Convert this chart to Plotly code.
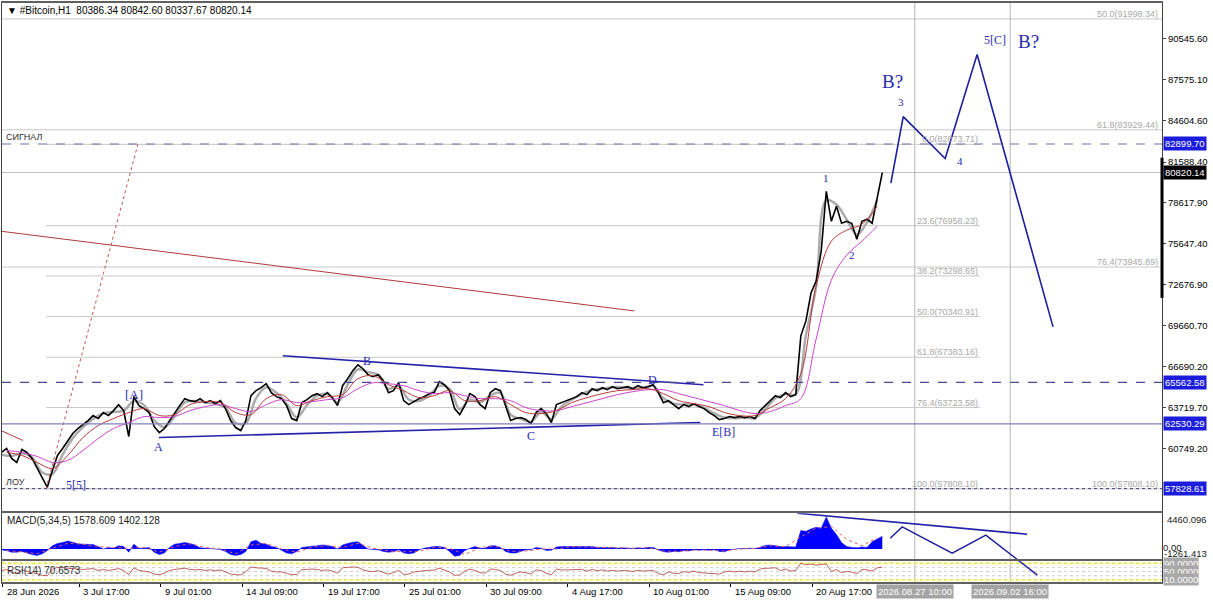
import pandas as pd
import plotly.graph_objects as go
from plotly.subplots import make_subplots

FONT = 'Liberation Sans'
SERIF = 'Liberation Serif'

# ---- #Bitcoin H1, closes every 8 hours ----
price_start = '2026-06-28 15:00'
price = [
    60458, 60748, 60023, 59733, 60675, 60458, 60023, 59298, 58573, 57920,
    59153, 60240, 60748, 61328, 61836, 62198, 62488, 62778, 63141, 62923,
    63358, 63141, 63503, 63938, 63503, 61618, 64518, 63866, 63648, 63358,
    62343, 61908, 62198, 62778, 63358, 63866, 64373, 64228, 64156, 64373,
    64083, 64228, 64011, 64228, 63648, 62778, 62271, 62053, 62778, 64590,
    64953, 65170, 65460, 64808, 64518, 64373, 63866, 62923, 62778, 64083,
    64301, 64590, 64736, 64518, 64808, 64446, 63866, 65315, 65823, 66403,
    66838, 66548, 66113, 65968, 66113, 65678, 64808, 64953, 65533, 64228,
    63938, 64156, 64373, 64518, 64736, 64808, 65605, 65388, 64953, 63648,
    63213, 63866, 64736, 64518, 63938, 63648, 64808, 65098, 64953, 63866,
    62778, 62923, 62996, 62851, 62561, 63358, 63648, 63286, 62633, 63938,
    64083, 64228, 64373, 64518, 64808, 64663, 65098, 64953, 65170, 65025,
    65243, 65098, 65170, 65243, 65098, 65315, 65170, 65243, 65388, 64808,
    64083, 64228, 63938, 63648, 63938, 63793, 64011, 63793, 63648, 63358,
    63141, 62851, 62923, 63068, 62996, 63068, 62996, 63068, 62923, 63503,
    63866, 64228, 64590, 64446, 64808, 64518, 64663, 68941, 70028, 72058,
    72928, 75103, 79453, 77278, 78366, 77133, 77278, 77133, 75973, 77278,
    77423, 77133, 79091, 80820.14,
]

# thick grey line, every 16 hours
grey_start = '2026-06-28 15:00'
grey_line = [
    60300, 60200, 60400, 60100, 59000, 58900, 60300, 61500, 62300, 62900,
    63300, 63400, 63500, 64200, 63900, 62800, 62300, 63100, 64100, 64200,
    64100, 64000, 63700, 62600, 62600, 64400, 65200, 64800, 64000, 63000,
    63900, 64600, 64700, 64100, 65400, 66500, 66300, 66100, 65100, 65300,
    64300, 64200, 64600, 65300, 65100, 63600, 64300, 64100, 64600, 64800,
    63200, 62900, 62700, 63400, 62900, 63800, 64300, 64700, 65000, 65100,
    65200, 65200, 65100, 65150, 65300, 64400, 64000, 63950, 63950, 63700,
    63300, 63000, 62950, 62990, 62950, 63600, 64400, 64700, 64700, 69000,
    72500, 78800, 78500, 77400, 76300, 77200, 78800,
]

# moving averages, every 24 hours
ma_start = '2026-06-28 23:00'
ma_red = [
    60458, 60240, 59733, 59298, 60240, 61546, 62416, 62923, 63358, 63648,
    63141, 63213, 63938, 64156, 64083, 63358, 63213, 64373, 64663, 63866,
    64228, 64518, 64663, 65823, 66041, 65388, 64953, 64446, 64590, 64953,
    64228, 64228, 64518, 63938, 63358, 63286, 63503, 64083, 64446, 64736,
    64953, 65025, 65098, 64736, 64228, 64011, 63793, 63358, 63141, 63141,
    63721, 64373, 66186, 72566, 75828, 76626, 77061, 78366,
]
ma_magenta = [
    60603, 60458, 60168, 59733, 59878, 60603, 61473, 62198, 62633, 63068,
    62996, 63068, 63503, 63793, 63938, 63648, 63431, 63938, 64301, 64083,
    64156, 64301, 64446, 65098, 65533, 65460, 65315, 64953, 64736, 64808,
    64590, 64373, 64373, 64228, 63721, 63503, 63503, 63793, 64083, 64373,
    64663, 64880, 65025, 65025, 64736, 64446, 64156, 63866, 63503, 63286,
    63431, 63866, 64373, 68700, 73000, 74813, 75828, 76916,
]

# MACD(5,34,5) histogram on the price grid, signal on the 24 h grid
macd_hist = [
    -100, -200, -400, -400, -300, -500, -700, -800, -600, -200,
    400, 700, 800, 1000, 800, 650, 600, 600, 550, 300,
    0, 200, 100, 400, 300, -400, 600, 100, 100, 200,
    -400, -700, -500, 200, 600, 700, 800, 700, 500, 150,
    100, 0, 0, -50, -300, -700, -800, -700, -300, 900,
    1100, 700, 600, 300, 200, -100, -500, -600, -300, 200,
    300, 350, 400, 500, 450, 300, 0, 500, 700, 850,
    900, 500, 0, -50, -100, -300, -400, -350, -100, -500,
    -600, -500, -100, 100, 200, 300, 300, 200, -300, -900,
    -800, -200, 100, 300, 100, 100, 400, 400, 200, -300,
    -500, -500, -300, -100, -100, 200, 100, -200, -150, 250,
    300, 300, 300, 300, 300, 250, 300, 200, 200, 150,
    200, 100, 150, 100, 50, 150, 100, 200, 200, -100,
    -350, -400, -300, -350, -200, -250, -100, -150, -100, -150,
    -100, -300, -350, -100, 0, 50, 50, 100, 50, 200,
    450, 500, 400, 300, 300, 300, 250, 2300, 2200, 2500,
    2700, 2600, 4000, 2600, 1800, 800, 300, 200, 150, 250,
    200, 900, 1200, 1578.609,
]
macd_signal = [
    -200, -350, -600, 100, 700, 600, 300, 200, 100, 200,
    -400, 300, 650, 200, 0, -600, 500, 700, 0, -400,
    250, 400, 200, 700, 100, -250, -350, -300, 200, 100,
    -700, 200, 350, -300, -250, 0, 0, 280, 280, 200,
    150, 100, 150, -250, -300, -150, -150, -250, 0, 80,
    400, 300, 1500, 2600, 2800, 1200, 400, 1402.128,
]

# RSI(14) on the price grid
rsi = [
    55, 60, 45, 40, 58, 52, 45, 38, 32, 30,
    62, 70, 68, 66, 64, 62, 60, 62, 64, 55,
    60, 55, 60, 64, 55, 35, 68, 55, 52, 48,
    38, 35, 42, 55, 60, 64, 66, 60, 58, 60,
    55, 58, 54, 58, 48, 38, 35, 34, 50, 72,
    68, 66, 65, 52, 48, 48, 42, 35, 36, 60,
    60, 62, 60, 55, 58, 52, 42, 68, 70, 72,
    70, 58, 52, 50, 54, 46, 38, 45, 56, 36,
    38, 48, 52, 54, 56, 57, 66, 56, 48, 32,
    34, 52, 62, 55, 45, 42, 62, 60, 55, 38,
    32, 42, 48, 44, 38, 58, 55, 42, 35, 62,
    58, 58, 58, 58, 60, 52, 60, 54, 58, 52,
    56, 52, 55, 54, 50, 56, 52, 54, 56, 40,
    35, 48, 42, 40, 50, 46, 52, 45, 44, 42,
    40, 38, 48, 52, 48, 52, 48, 52, 48, 62,
    65, 66, 68, 55, 62, 52, 55, 90, 82, 86,
    80, 84, 86, 50, 60, 45, 50, 48, 40, 60,
    58, 52, 68, 70.6573,
]

last_bar = [80386.34, 80842.60, 80337.67, 80820.14]
macd_last = [1578.609, 1402.128]
rsi_last = 70.6573

price_ticks = [90545.60, 87575.10, 84604.60, 81588.40, 78617.90, 75647.40,
               72676.90, 69660.70, 66690.20, 63719.70, 60749.20]
macd_scale = [4460.096, 0.00, -1261.413]
rsi_levels = [90, 70, 50, 30, 10]

signal_level = 82899.70
resist_level = 65562.58
support_level = 62530.29
low_level = 57828.61

fib1_span = ['2026-07-01 13:00', '2026-08-31 16:42']
fib1_pct = [0.0, 23.6, 38.2, 50.0, 61.8, 76.4, 100.0]
fib1_price = [82873.71, 76958.23, 73298.65, 70340.91, 67383.16, 63723.58, 57808.10]
fib2_pct = [50.0, 61.8, 76.4, 100.0]
fib2_price = [91998.34, 83929.44, 73945.89, 57808.10]
fib1_base_t = ['2026-07-01 13:00', '2026-07-07 13:18']
fib1_base_p = [57808.10, 82873.71]

red_line_t = ['2026-06-28 14:18', '2026-08-09 01:36']
red_line_p = [76553, 70753]
red_stub_t = ['2026-06-28 14:18', '2026-06-30 00:48']
red_stub_p = [62050, 61328]

tri_top_t = ['2026-07-17 01:00', '2026-08-13 14:00']
tri_top_p = [67491, 65388]
tri_bot_t = ['2026-07-08 22:18', '2026-08-13 09:12']
tri_bot_p = [61546, 62633]

wave_t = ['2026-08-25 20:30', '2026-08-26 15:54', '2026-08-29 09:48',
          '2026-08-31 12:00', '2026-09-05 11:18']
wave_p = [80055, 84890, 81845, 89407, 69593]

macd_trend_t = ['2026-08-19 17:30', '2026-09-03 18:30']
macd_trend_v = [4460, 1848]
macd_wave_t = ['2026-08-25 19:24', '2026-08-26 14:18', '2026-08-29 20:48',
               '2026-09-01 01:42', '2026-09-04 10:42']
macd_wave_v = [1350, 2756, -516, 1723, -3253]
rsi_wave_t = ['2026-09-01 01:42', '2026-09-04 10:42']
rsi_wave_v = [224, 33]

wave_labels = [
    ('[A]', '2026-07-07 07:00', 64663, 13),
    ('A', '2026-07-08 22:18', 60821, 12),
    ('B', '2026-07-22 13:00', 67128, 12),
    ('C', '2026-08-02 06:18', 61691, 12),
    ('D', '2026-08-10 06:00', 65750, 12),
    ('E[B]', '2026-08-14 21:18', 61981, 12),
    ('5[5]', '2026-07-03 12:00', 58066, 12),
    ('1', '2026-08-21 15:00', 80396, 11),
    ('2', '2026-08-23 07:48', 74813, 11),
    ('3', '2026-08-26 12:42', 85978, 11),
    ('4', '2026-08-30 09:18', 81628, 11),
    ('5[C]', '2026-09-01 16:18', 90473, 12),
    ('B?', '2026-08-25 22:36', 87428, 19),
    ('B?', '2026-09-03 20:06', 90328, 19),
]

xtick_t = ['2026-06-28 17:00', '2026-07-03 17:00', '2026-07-09 01:00', '2026-07-14 09:00',
           '2026-07-19 17:00', '2026-07-25 01:00', '2026-07-30 09:00', '2026-08-04 17:00',
           '2026-08-10 01:00', '2026-08-15 09:00', '2026-08-20 17:00']
xtick_text = ['28 Jun 2026', '3 Jul 17:00', '9 Jul 01:00', '14 Jul 09:00', '19 Jul 17:00',
              '25 Jul 01:00', '30 Jul 09:00', '4 Aug 17:00', '10 Aug 01:00', '15 Aug 09:00',
              '20 Aug 17:00']
vline_t = ['2026-08-27 10:00', '2026-09-02 16:00']
vline_text = ['2026.08.27 10:00', '2026.09.02 16:00']

x_range = ['2026-06-28 15:48', '2026-09-12 14:30']

price_t = pd.date_range(price_start, periods=len(price), freq='8h')
grey_t = pd.date_range(grey_start, periods=len(grey_line), freq='16h')
ma_t = pd.date_range(ma_start, periods=len(ma_red), freq='24h')


# pixel -> paper helpers for text placement (plot area x 1..1162, y 1..583)
def px(x):
    return (x - 1) / 1161


def py(y):
    return (583 - y) / 582


fig = make_subplots(rows=3, cols=1, shared_xaxes=True, vertical_spacing=0)

# ---- main panel ----
fig.add_trace(go.Scatter(x=grey_t, y=grey_line, mode='lines', line_shape='spline',
                         line=dict(color='#ababab', width=2.5)), row=1, col=1)
fig.add_trace(go.Scatter(x=price_t, y=price, mode='lines',
                         line=dict(color='black', width=1.6)), row=1, col=1)
fig.add_trace(go.Scatter(x=ma_t, y=ma_magenta, mode='lines', line_shape='spline',
                         line=dict(color='#cc44cc', width=1)), row=1, col=1)
fig.add_trace(go.Scatter(x=ma_t, y=ma_red, mode='lines', line_shape='spline',
                         line=dict(color='#b83a3a', width=1)), row=1, col=1)
fig.add_trace(go.Scatter(x=red_line_t, y=red_line_p, mode='lines',
                         line=dict(color='#b03a3a', width=1)), row=1, col=1)
fig.add_trace(go.Scatter(x=red_stub_t, y=red_stub_p, mode='lines',
                         line=dict(color='#b03a3a', width=1)), row=1, col=1)
fig.add_trace(go.Scatter(x=fib1_base_t, y=fib1_base_p, mode='lines',
                         line=dict(color='#c05050', width=1, dash='dot')), row=1, col=1)
fig.add_trace(go.Scatter(x=tri_top_t, y=tri_top_p, mode='lines',
                         line=dict(color='#2222aa', width=1.6)), row=1, col=1)
fig.add_trace(go.Scatter(x=tri_bot_t, y=tri_bot_p, mode='lines',
                         line=dict(color='#2222aa', width=1.6)), row=1, col=1)
fig.add_trace(go.Scatter(x=wave_t, y=wave_p, mode='lines',
                         line=dict(color='#1e1e9e', width=1.6)), row=1, col=1)

# ---- MACD panel ----
fig.add_trace(go.Scatter(x=price_t, y=macd_hist, mode='lines', fill='tozeroy',
                         fillcolor='#0000ff', line=dict(color='#0000ff', width=0.5)),
              row=2, col=1)
fig.add_trace(go.Scatter(x=ma_t, y=macd_signal, mode='lines',
                         line=dict(color='#e06060', width=1, dash='dot')), row=2, col=1)
fig.add_trace(go.Scatter(x=macd_trend_t, y=macd_trend_v, mode='lines',
                         line=dict(color='#2222aa', width=1.6)), row=2, col=1)
fig.add_trace(go.Scatter(x=macd_wave_t, y=macd_wave_v, mode='lines',
                         line=dict(color='#1e1e9e', width=1.4)), row=2, col=1)

# ---- RSI panel ----
fig.add_trace(go.Scatter(x=price_t, y=rsi, mode='lines',
                         line=dict(color='#b03a3a', width=0.8)), row=3, col=1)
fig.add_trace(go.Scatter(x=rsi_wave_t, y=rsi_wave_v, mode='lines',
                         line=dict(color='#1e1e9e', width=1.4)), row=3, col=1)

shapes = []
# fibo levels
for p in fib2_price:
    shapes.append(dict(type='line', xref='x domain', x0=0, x1=1, yref='y', y0=p, y1=p,
                       line=dict(color='#c8c8c8', width=1), layer='below'))
for p in fib1_price:
    shapes.append(dict(type='line', xref='x', x0=fib1_span[0], x1=fib1_span[1], yref='y',
                       y0=p, y1=p, line=dict(color='#c8c8c8', width=1), layer='below'))
# bid line
shapes.append(dict(type='line', xref='x domain', x0=0, x1=1, yref='y', y0=last_bar[3],
                   y1=last_bar[3], line=dict(color='#c0c0c0', width=1), layer='below'))
# horizontal levels
shapes.append(dict(type='line', xref='x domain', x0=0, x1=1, yref='y', y0=signal_level,
                   y1=signal_level, line=dict(color='#7070aa', width=1.2, dash='dash')))
shapes.append(dict(type='line', xref='x domain', x0=0, x1=1, yref='y', y0=resist_level,
                   y1=resist_level, line=dict(color='#4a4a8a', width=1.2, dash='dash')))
shapes.append(dict(type='line', xref='x domain', x0=0, x1=1, yref='y', y0=support_level,
                   y1=support_level, line=dict(color='#8080c0', width=1.2)))
shapes.append(dict(type='line', xref='x domain', x0=0, x1=1, yref='y', y0=low_level,
                   y1=low_level, line=dict(color='#404080', width=1, dash='dot')))
# time markers through all panels
for t in vline_t:
    shapes.append(dict(type='line', xref='x', x0=t, x1=t, yref='paper', y0=0, y1=1,
                       line=dict(color='#b4b4b4', width=1), layer='below'))
# RSI bands and levels
for lv in (90, 10):
    shapes.append(dict(type='rect', xref='x3 domain', x0=0, x1=1, yref='y3', y0=lv - 6,
                       y1=lv + 6, fillcolor='#fbfbc4', line=dict(width=0), layer='below'))
for lv in rsi_levels:
    col = '#dada30' if lv in (90, 10) else '#cfcfcf'
    shapes.append(dict(type='line', xref='x3 domain', x0=0, x1=1, yref='y3', y0=lv, y1=lv,
                       line=dict(color=col, width=1, dash='dot'), layer='below'))
# thick mark on the price scale
shapes.append(dict(type='line', xref='paper', x0=1, x1=1, yref='y', y0=81900, y1=71700,
                   line=dict(color='black', width=3)))

ann = []
ann.append(dict(xref='paper', yref='paper', x=px(4), y=py(9), xanchor='left', yanchor='middle',
                text='▼ #Bitcoin,H1  ' + ' '.join(f'{v:.2f}' for v in last_bar),
                showarrow=False, font=dict(family=FONT, size=10, color='black')))
ann.append(dict(xref='paper', yref='paper', x=px(4), y=py(520), xanchor='left',
                yanchor='middle', showarrow=False,
                text=f'MACD(5,34,5) {macd_last[0]:.3f} {macd_last[1]:.3f}',
                font=dict(family=FONT, size=10, color='#202020')))
ann.append(dict(xref='paper', yref='paper', x=px(4), y=py(570), xanchor='left',
                yanchor='middle', showarrow=False, text=f'RSI(14) {rsi_last:.4f}',
                font=dict(family=FONT, size=10, color='#303030')))
ann.append(dict(xref='paper', yref='y', x=px(3), y=signal_level, xanchor='left',
                yanchor='bottom', showarrow=False, text='СИГНАЛ',
                font=dict(family=FONT, size=9, color='#303030')))
ann.append(dict(xref='paper', yref='y', x=px(3), y=low_level, xanchor='left',
                yanchor='bottom', showarrow=False, text='ЛОУ',
                font=dict(family=FONT, size=9, color='#303030')))

for pct, p in zip(fib1_pct, fib1_price):
    ann.append(dict(xref='x', yref='y', x=fib1_span[1], y=p, xanchor='right',
                    yanchor='bottom', showarrow=False, text=f'{pct:.1f}({p:.2f})',
                    yshift=-2, font=dict(family=FONT, size=9, color='#a8a8a8')))
for pct, p in zip(fib2_pct, fib2_price):
    ann.append(dict(xref='paper', yref='y', x=1, y=p, xanchor='right', xshift=-2,
                    yanchor='bottom', showarrow=False, text=f'{pct:.1f}({p:.2f})',
                    yshift=-2, font=dict(family=FONT, size=9, color='#a8a8a8')))

for txt, t, p, size in wave_labels:
    ann.append(dict(xref='x', yref='y', x=t, y=p, showarrow=False, text=txt,
                    font=dict(family=SERIF, size=size, color='#2b2bb0')))

boxes = [(signal_level, '#1c1cdc'), (last_bar[3], '#000000'), (resist_level, '#1c1cdc'),
         (support_level, '#1c1cdc'), (low_level, '#1c1cdc')]
for v, bg in boxes:
    ann.append(dict(xref='paper', yref='y', x=1, xshift=1, y=v, xanchor='left',
                    yanchor='middle', showarrow=False, text=f'{v:.2f}', bgcolor=bg,
                    borderpad=1, font=dict(family=FONT, size=9.5, color='white')))

ann.append(dict(xref='paper', yref='paper', x=1, xshift=3, y=py(519), xanchor='left',
                yanchor='middle', showarrow=False, text=f'{macd_scale[0]:.3f}',
                font=dict(family=FONT, size=9.5, color='#202020')))
ann.append(dict(xref='paper', yref='paper', x=1, xshift=-1, y=py(547), xanchor='left',
                yanchor='middle', showarrow=False, text=f'{macd_scale[1]:.2f}',
                font=dict(family=FONT, size=9.5, color='#202020')))
ann.append(dict(xref='paper', yref='paper', x=1, xshift=0, y=py(553), xanchor='left',
                yanchor='middle', showarrow=False, text=f'{macd_scale[2]:.3f}',
                font=dict(family=FONT, size=9.5, color='#202020')))
for lv in (90, 50, 10):
    ann.append(dict(xref='paper', yref='y3', x=1, xshift=1, y=lv, xanchor='left',
                    yanchor='middle', showarrow=False, text=f'{lv:.4f}', bgcolor='#a8a8a8',
                    borderpad=0, font=dict(family=FONT, size=9.5, color='white')))

for t, txt in zip(xtick_t, xtick_text):
    ann.append(dict(xref='x3', yref='paper', x=t, y=py(592), xanchor='left', xshift=2,
                    yanchor='middle', showarrow=False, text=txt,
                    font=dict(family=FONT, size=9.5, color='black')))
for t, txt in zip(vline_t, vline_text):
    ann.append(dict(xref='x3', yref='paper', x=t, y=py(592), xanchor='center',
                    yanchor='middle', showarrow=False, text=txt, bgcolor='#a4a4a4',
                    borderpad=1, font=dict(family=FONT, size=9.5, color='white')))

axis_common = dict(type='date', range=x_range, showgrid=False, zeroline=False,
                   showline=True, mirror=True, linecolor='#606060', linewidth=1.5,
                   showticklabels=False)
fig.update_layout(
    width=1213, height=600,
    margin=dict(l=1, r=51, t=1, b=17),
    paper_bgcolor='white', plot_bgcolor='white',
    showlegend=False,
    xaxis=dict(axis_common),
    xaxis2=dict(axis_common),
    xaxis3=dict(axis_common, ticks='outside', ticklen=3, tickcolor='black',
                tickvals=xtick_t),
    yaxis=dict(domain=[0.1237, 1], range=[56180.6, 93155.6], side='right',
               showgrid=False, zeroline=False, showline=True, mirror=True,
               linecolor='#404040', linewidth=1, ticks='outside', ticklen=3,
               tickvals=price_ticks, ticktext=[f'{v:.2f}' for v in price_ticks],
               tickfont=dict(family=FONT, size=9.5, color='black')),
    yaxis2=dict(domain=[0.0412, 0.1203], range=[macd_scale[2], macd_scale[0]],
                side='right', showgrid=False, zeroline=False, showline=True, mirror=True,
                linecolor='#404040', showticklabels=False),
    yaxis3=dict(domain=[0.0017, 0.0378], range=[0, 100], side='right', showgrid=False,
                zeroline=False, showline=True, mirror=True, linecolor='#404040',
                showticklabels=False),
    shapes=shapes,
    annotations=ann,
)

# the page body has a default margin; drop it so the figure sits at 0,0
fig.write_html('out.html', config={'displayModeBar': False},
               post_script="document.body.style.margin='0';document.body.style.overflow='hidden';")
